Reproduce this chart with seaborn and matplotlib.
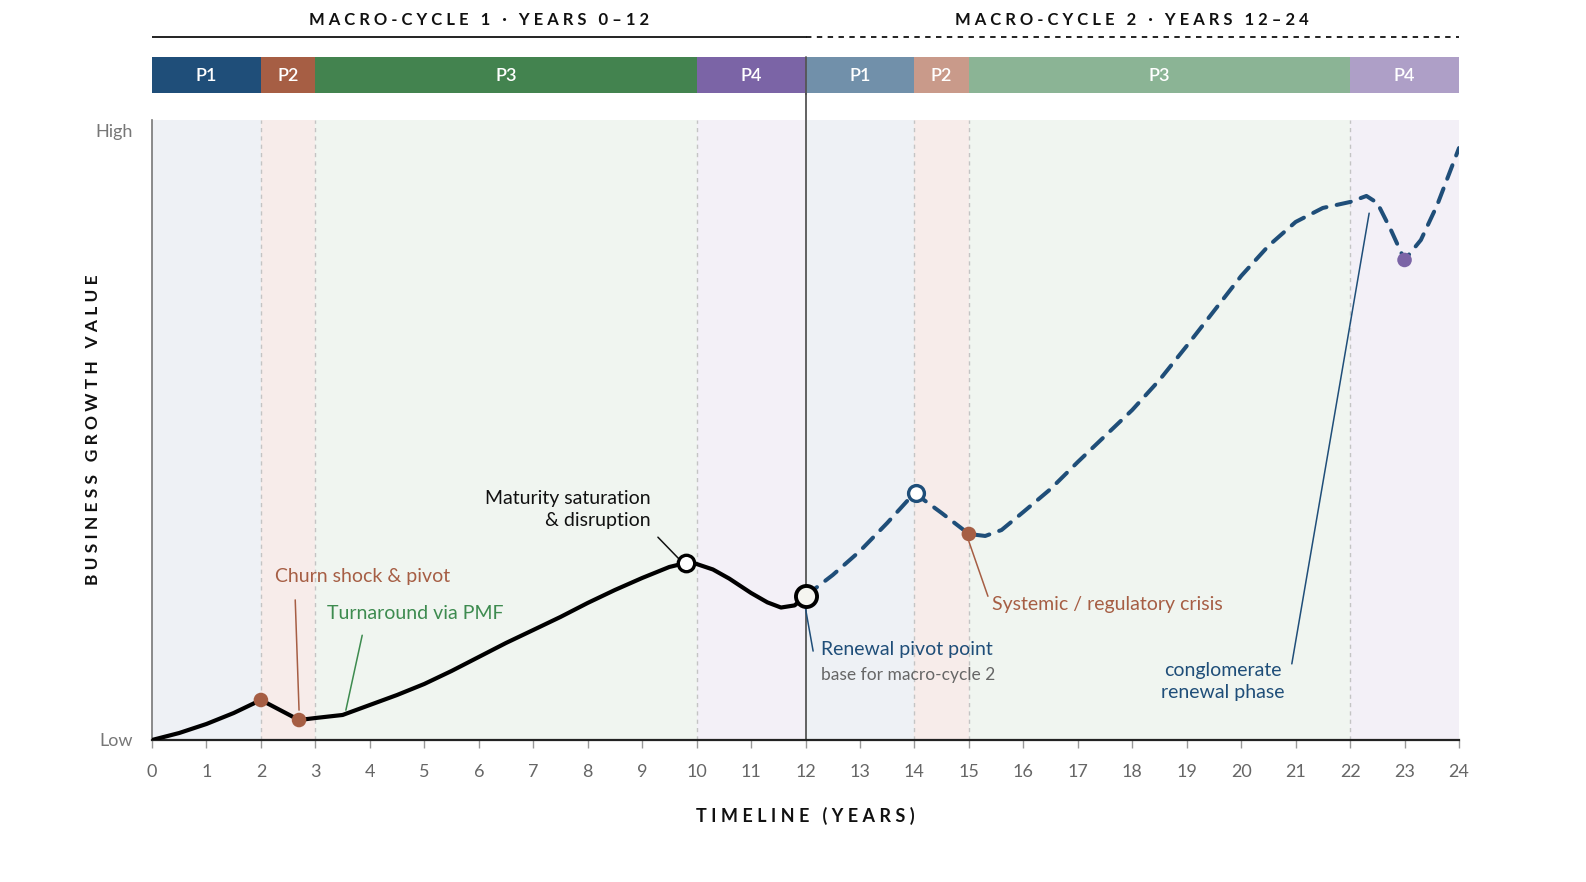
import numpy as np
import matplotlib
matplotlib.use("Agg")
import matplotlib.pyplot as plt
import seaborn as sns

# data
cycle1_x = [0, 0.5, 1, 1.5, 2, 2.7, 3, 3.5, 4, 4.5, 5, 5.5, 6, 6.5, 7, 7.5, 8, 8.5, 9,
            9.5, 9.8, 10.0, 10.3, 10.6, 11, 11.3, 11.55, 11.8, 12]
cycle1_y = [0, 1.15, 2.63, 4.43, 6.57, 3.28, 3.61, 4.11, 5.75, 7.39, 9.2, 11.33, 13.63,
            15.93, 18.06, 20.2, 22.5, 24.63, 26.6, 28.41, 29.06, 28.9, 28.0, 26.5, 24.14,
            22.6, 21.75, 22.1, 23.65]
cycle2_x = [12, 12.5, 13, 13.5, 14, 14.5, 15, 15.3, 15.6, 16, 16.5, 17, 17.5, 18, 18.5,
            19, 19.5, 20, 20.5, 21, 21.5, 22, 22.3, 22.5, 22.75, 23, 23.3, 23.6, 24]
cycle2_y = [23.65, 27.09, 31.03, 35.63, 40.56, 37.27, 33.83, 33.5, 34.48, 37.44, 41.21,
            45.65, 49.92, 54.19, 59.11, 64.7, 70.44, 76.19, 81.12, 85.06, 87.36, 88.34,
            89.33, 88.18, 83.74, 78.82, 82.1, 87.85, 97.2]

phase_names = ["P1", "P2", "P3", "P4", "P1", "P2", "P3", "P4"]
phase_start = [0, 2, 3, 10, 12, 14, 15, 22]
phase_end = [2, 3, 10, 12, 14, 15, 22, 24]
phase_colors = ["#1f4e79", "#a65e44", "#43834f", "#7b64a6",
                "#7190aa", "#c99a8a", "#8bb495", "#ae9fc7"]
band_colors = ["#eef1f5", "#f7ecea", "#f0f5f0", "#f3f0f7"] * 2

shock_x, shock_y = [2, 2.7], [6.57, 3.28]
crisis_x, crisis_y = [15], [33.83]
dip_x, dip_y = [23], [78.82]
peak1 = (9.8, 29.06)
pivot = (12, 23.65)
peak2 = (14.03, 40.56)

BLUE, BROWN, GREEN, PURPLE = "#1f4e79", "#a65e44", "#3d8b4f", "#7b64a6"

sns.set_theme(style="white")
plt.rcParams["font.family"] = ["Lato", "DejaVu Sans"]


def spaced(s):
    return " ".join(s)


W, H = 1586, 882
fig = plt.figure(figsize=(W / 100, H / 100), dpi=100)
ax = fig.add_axes([152 / W, 1 - 740 / H, (1459 - 152) / W, 620 / H])
head = fig.add_axes([152 / W, 1 - 95 / H, (1459 - 152) / W, 95 / H])

# background phase bands
for s, e, c in zip(phase_start, phase_end, band_colors):
    ax.axvspan(s, e, color=c, lw=0, zorder=0)
for xv in [2, 3, 10, 14, 15, 22]:
    ax.axvline(xv, color="#c4c4c4", lw=1, ls=(0, (3, 3)), zorder=1)
ax.axvline(12, 0, 1.045, color="#555555", lw=1.3, zorder=2, clip_on=False)

# curves
sns.lineplot(x=cycle1_x, y=cycle1_y, ax=ax, color="black", lw=3.0, zorder=4,
             solid_capstyle="round", solid_joinstyle="round")
sns.lineplot(x=cycle2_x, y=cycle2_y, ax=ax, color=BLUE, lw=2.9, zorder=4,
             linestyle=(0, (3.6, 2.6)), dash_capstyle="round")

# markers
sns.scatterplot(x=shock_x, y=shock_y, ax=ax, color=BROWN, s=110, edgecolor="none", zorder=6)
sns.scatterplot(x=crisis_x, y=crisis_y, ax=ax, color=BROWN, s=110, edgecolor="none", zorder=6)
sns.scatterplot(x=dip_x, y=dip_y, ax=ax, color=PURPLE, s=110, edgecolor="none", zorder=6)
ax.scatter(*peak1, s=140, facecolor="white", edgecolor="black", lw=2.4, zorder=6)
ax.scatter(*pivot, s=230, facecolor="#f5f5f0", edgecolor="black", lw=2.8, zorder=6)
ax.scatter(*peak2, s=130, facecolor="white", edgecolor=BLUE, lw=2.4, zorder=6)


def leader(x0, y0, x1, y1, color):
    ax.annotate("", xy=(x1, y1), xytext=(x0, y0),
                arrowprops=dict(arrowstyle="-", color=color, lw=1.1,
                                shrinkA=0, shrinkB=0), zorder=5)


fs = 14
ax.text(2.26, 26.8, "Churn shock & pivot", color=BROWN, fontsize=fs, va="center")
leader(2.63, 23.0, 2.70, 4.9, BROWN)
ax.text(3.21, 20.7, "Turnaround via PMF", color=GREEN, fontsize=fs, va="center")
leader(3.86, 17.2, 3.56, 4.9, GREEN)
ax.text(9.16, 37.9, "Maturity saturation\n& disruption", color="#111111", fontsize=fs,
        va="center", ha="right", multialignment="right", linespacing=1.35)
leader(9.29, 33.3, 9.68, 29.7, "#111111")
ax.text(12.28, 14.9, "Renewal pivot point", color=BLUE, fontsize=fs, va="center")
ax.text(12.28, 10.7, "base for macro-cycle 2", color="#666666", fontsize=12.5, va="center")
leader(12.0, 21.6, 12.14, 14.6, BLUE)
ax.text(15.42, 22.2, "Systemic / regulatory crisis", color=BROWN, fontsize=fs, va="center")
leader(15.0, 32.6, 15.35, 23.6, BROWN)
ax.text(19.67, 9.6, "conglomerate\nrenewal phase", color=BLUE, fontsize=fs,
        va="center", ha="center", linespacing=1.35)
leader(20.93, 12.5, 22.35, 86.5, BLUE)

# axes styling
ax.set_xlim(0, 24)
ax.set_ylim(0, 101.8)
ax.set_xticks(range(0, 25))
ax.set_xticklabels([str(i) for i in range(0, 25)], fontsize=13, color="#666666")
ax.set_yticks([0, 100])
ax.set_yticklabels(["Low", "High"], fontsize=13, color="#777777")
ax.tick_params(axis="x", length=6, width=1, color="#999999", pad=11, bottom=True)
ax.tick_params(axis="y", length=0, pad=14)
for side in ["top", "right"]:
    ax.spines[side].set_visible(False)
ax.spines["left"].set_color("#777777")
ax.spines["left"].set_linewidth(1.2)
ax.spines["bottom"].set_color("#222222")
ax.spines["bottom"].set_linewidth(1.6)
ax.set_xlabel(spaced("TIMELINE (YEARS)"), fontsize=13, fontweight="bold",
              color="#111111", labelpad=20)
ax.set_ylabel(spaced("BUSINESS GROWTH VALUE"), fontsize=12.5, fontweight="bold",
              color="#111111", labelpad=-4)

# header: macro-cycle labels and phase bars
head.set_xlim(0, 24)
head.set_ylim(95, 0)
head.axis("off")
head.barh([75] * len(phase_names), [e - s for s, e in zip(phase_start, phase_end)],
          left=phase_start, height=36, color=phase_colors, lw=0)
for name, s, e in zip(phase_names, phase_start, phase_end):
    head.text((s + e) / 2, 76, name, color="white", fontsize=13, fontweight="semibold",
              ha="center", va="center")
head.plot([0, 12], [37, 37], color="#111111", lw=1.3)
head.plot([12, 24], [37, 37], color="#111111", lw=1.3, ls=(0, (3, 3)))
head.text(6, 20, spaced("MACRO-CYCLE 1 · YEARS 0–12"), fontsize=12, fontweight="bold",
          color="#111111", ha="center", va="center")
head.text(18, 20, spaced("MACRO-CYCLE 2 · YEARS 12–24"), fontsize=12, fontweight="bold",
          color="#111111", ha="center", va="center")
head.axvline(12, 0, 0.4, color="#555555", lw=1.3)

fig.savefig("out.png", dpi=100, facecolor="white")
